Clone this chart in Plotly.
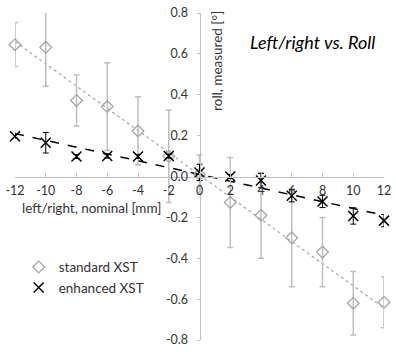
import numpy as np
import plotly.graph_objects as go

x_nominal = [-12, -10, -8, -6, -4, -2, 0, 2, 4, 6, 8, 10, 12]
standard_y = [0.645, 0.632, 0.372, 0.342, 0.223, 0.099, 0.01, -0.127, -0.19, -0.30, -0.37, -0.62, -0.615]
standard_err = [0.107, 0.19, 0.125, 0.215, 0.167, 0.226, 0.095, 0.22, 0.21, 0.24, 0.17, 0.155, 0.125]
enhanced_y = [0.197, 0.165, 0.098, 0.10, 0.098, 0.10, 0.02, 0.0, -0.02, -0.094, -0.122, -0.193, -0.216]
enhanced_err = [0.01, 0.05, 0.01, 0.01, 0.01, 0.01, 0.04, 0.01, 0.035, 0.03, 0.03, 0.04, 0.03]
x_ticks = [-12, -10, -8, -6, -4, -2, 0, 2, 4, 6, 8, 10, 12]
y_ticks = [-0.8, -0.6, -0.4, -0.2, 0.0, 0.2, 0.4, 0.6, 0.8]

FONT = "Lato"
GRAY = "#bfbfbf"
TEXT = "#333333"

xs = np.array(x_nominal, dtype=float)
s_fit = np.polyfit(xs, np.array(standard_y), 1)
e_fit = np.polyfit(xs, np.array(enhanced_y), 1)
line_x = np.array([min(x_nominal), max(x_nominal)], dtype=float)

fig = go.Figure()
fig.add_trace(go.Scatter(x=line_x, y=np.polyval(s_fit, line_x), mode="lines",
                         line=dict(color="#a6a6a6", width=1.2, dash="dot"),
                         showlegend=False, hoverinfo="skip", cliponaxis=False))
fig.add_trace(go.Scatter(x=line_x, y=np.polyval(e_fit, line_x), mode="lines",
                         line=dict(color="black", width=1.5, dash="dash"),
                         showlegend=False, hoverinfo="skip", cliponaxis=False))
fig.add_trace(go.Scatter(x=x_nominal, y=standard_y, mode="markers", name="standard XST",
                         marker=dict(symbol="diamond-open", size=9, color="#a6a6a6",
                                     line=dict(width=1.3, color="#a6a6a6")),
                         error_y=dict(type="data", array=standard_err, color=GRAY,
                                      thickness=1.5, width=3),
                         cliponaxis=False))
fig.add_trace(go.Scatter(x=x_nominal, y=enhanced_y, mode="markers", name="enhanced XST",
                         marker=dict(symbol="x-thin-open", size=10, color="black",
                                     line=dict(width=1.5, color="black")),
                         error_y=dict(type="data", array=enhanced_err, color="black",
                                      thickness=1, width=3),
                         cliponaxis=False))

fig.update_layout(
    width=396, height=352,
    margin=dict(l=9, r=7, t=5, b=7),
    paper_bgcolor="white", plot_bgcolor="white",
    font=dict(family=FONT, size=12, color=TEXT),
    showlegend=True,
    legend=dict(x=0.01, y=0.27, xanchor="left", yanchor="top",
                font=dict(family=FONT, size=13.5, color=TEXT),
                tracegroupgap=0, itemwidth=30,
                bgcolor="rgba(0,0,0,0)"),
    xaxis=dict(range=[-12, 12], tickvals=x_ticks, ticktext=[str(v) for v in x_ticks],
               showgrid=False, zeroline=False, showline=True, linecolor=GRAY, linewidth=1,
               ticks="inside", ticklen=4, tickcolor=GRAY,
               anchor="free", position=0.5, side="bottom",
               ticklabeloverflow="allow", ticklabelstandoff=2,
               tickfont=dict(family=FONT, size=12.5, color=TEXT)),
    yaxis=dict(range=[-0.8, 0.8], tickvals=y_ticks, ticktext=[f"{v:.1f}" for v in y_ticks],
               showgrid=False, zeroline=False, showline=True, linecolor=GRAY, linewidth=1,
               ticks="outside", ticklen=3, tickcolor=GRAY,
               anchor="free", position=0.5, side="left",
               ticklabeloverflow="allow", ticklabelstandoff=6,
               tickfont=dict(family=FONT, size=12.5, color=TEXT)),
    annotations=[
        dict(text="<i>Left/right vs. Roll</i>", x=0.807, y=0.912, xref="paper", yref="paper",
             xanchor="center", yanchor="middle",
             showarrow=False, font=dict(family=FONT, size=18, color="black")),
        dict(text="roll, measured [°]", x=0.547, y=0.853, xref="paper", yref="paper",
             xanchor="center", yanchor="middle",
             showarrow=False, textangle=-90, font=dict(family=FONT, size=13.5, color=TEXT)),
        dict(text="left/right, nominal [mm]", x=0.208, y=0.403, xref="paper", yref="paper",
             xanchor="center", yanchor="middle",
             showarrow=False, font=dict(family=FONT, size=13.5, color=TEXT)),
    ],
)

fig.write_html("out.html", config={"displayModeBar": False},
               post_script="document.body.style.margin='0';")
